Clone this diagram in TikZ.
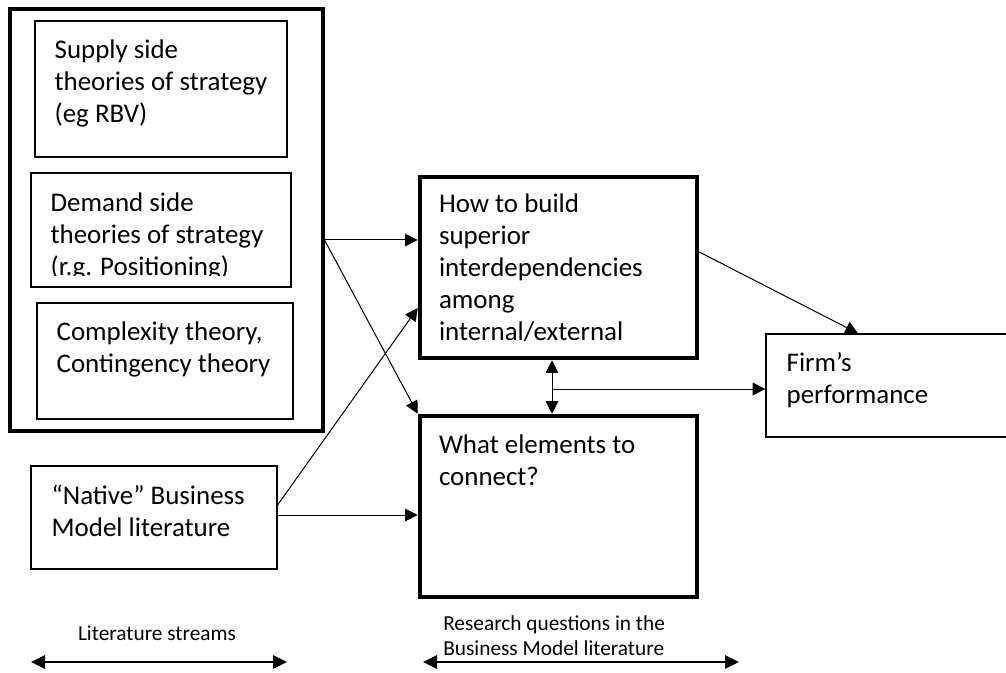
\documentclass[tikz,border=0pt]{standalone}
\usepackage{fontspec}
\setmainfont{Carlito}
\usetikzlibrary{arrows.meta,fit}

\tikzset{
  thinbox/.style={draw, line width=0.9pt, inner sep=0pt},
  thickbox/.style={draw, line width=3.4pt, inner sep=0pt},
  outerbox/.style={draw, line width=2.3pt, inner sep=0pt},
  boxtext/.style={anchor=north west, inner sep=0pt, align=left, font=\fontsize{20.2}{24}\selectfont},
  smalltext/.style={inner sep=0pt, align=left, font=\fontsize{16}{18.75}\selectfont},
  link/.style={line width=0.75pt, -{Triangle[length=9.5pt,width=9.5pt]}},
  twoway/.style={line width=0.75pt, {Triangle[length=9.5pt,width=9.5pt]}-{Triangle[length=9.5pt,width=9.5pt]}},
  span/.style={line width=1.5pt, {Triangle[length=10.5pt,width=10pt]}-{Triangle[length=10.5pt,width=10pt]}},
}

\begin{document}
\begin{tikzpicture}[x=0.75pt,y=-0.75pt]
	\useasboundingbox (0,0) rectangle (1006,673);

	% literature streams
	\node[outerbox, fit={(10,9) (323,431)}] (lit) {};
	\node[thinbox, fit={(35,21) (287,157)}] (sup) {};
	\node[thinbox, fit={(31,173) (291,287)}] (dem) {};
	\node[thinbox, fit={(37,303) (293,419)}] (cpx) {};
	\node[thinbox, fit={(31,466) (277,569)}] (native) {};

	\node[boxtext] (sup-t) at ([shift={(20,19)}]sup.north west) {Supply side\\theories of strategy\\(eg RBV)};
	\begin{scope}
		\clip (31,173) rectangle (291,276);
		\node[boxtext] (dem-t) at ([shift={(20,20)}]dem.north west) {Demand side\\theories of strategy\\(r.g. Positioning)};
	\end{scope}
	\node[boxtext] (cpx-t) at ([shift={(20,19)}]cpx.north west) {Complexity theory,\\Contingency theory};
	\node[boxtext] (native-t) at ([shift={(21,19)}]native.north west) {“Native” Business\\Model literature};

	% research questions
	\node[thickbox, fit={(420,177) (697,358)}] (how) {};
	\node[thickbox, fit={(420,416) (697,597)}] (what) {};
	\node[thinbox, fit={(766,334) (1015,437)}] (firm) {};

	\node[boxtext] (how-t) at ([shift={(21,19)}]how.north west) {How to build\\superior\\interdependencies\\among\\internal/external};
	\node[boxtext] (what-t) at ([shift={(21,21)}]what.north west) {What elements to\\connect?};
	\node[boxtext] (firm-t) at ([shift={(21,19)}]firm.north west) {Firm’s\\performance};

	% connectors
	\coordinate (litout) at (lit.east |- 0,240);
	\draw[link] (litout) -- (how.west |- litout);
	\draw[link] (litout) -- (what.north west);
	\draw[link] (native.east |- 0,505) -- (how.west |- 0,308);
	\draw[link] (native.east |- 0,515) -- (what.west |- 0,515);
	\draw[link] (how.east |- 0,252) -- (firm.north -| 858,0);
	\draw[twoway] (how.south -| 552,0) -- (what.north -| 552,0);
	\coordinate (mid) at (552,389);
	\draw[link] (mid) -- (firm.west |- mid);

	% bottom spans
	\coordinate (ls-a) at (31,662);
	\coordinate (ls-b) at (287,662);
	\coordinate (rq-a) at (423,662);
	\coordinate (rq-b) at (739,662);
	\draw[span] (ls-a) -- (ls-b);
	\draw[span] (rq-a) -- (rq-b);
	\node[smalltext] (ls-t) at (157,633) {Literature streams};
	\node[smalltext, anchor=west] (rq-t) at (443,635.5) {Research questions in the\\Business Model literature};
\end{tikzpicture}
\end{document}
